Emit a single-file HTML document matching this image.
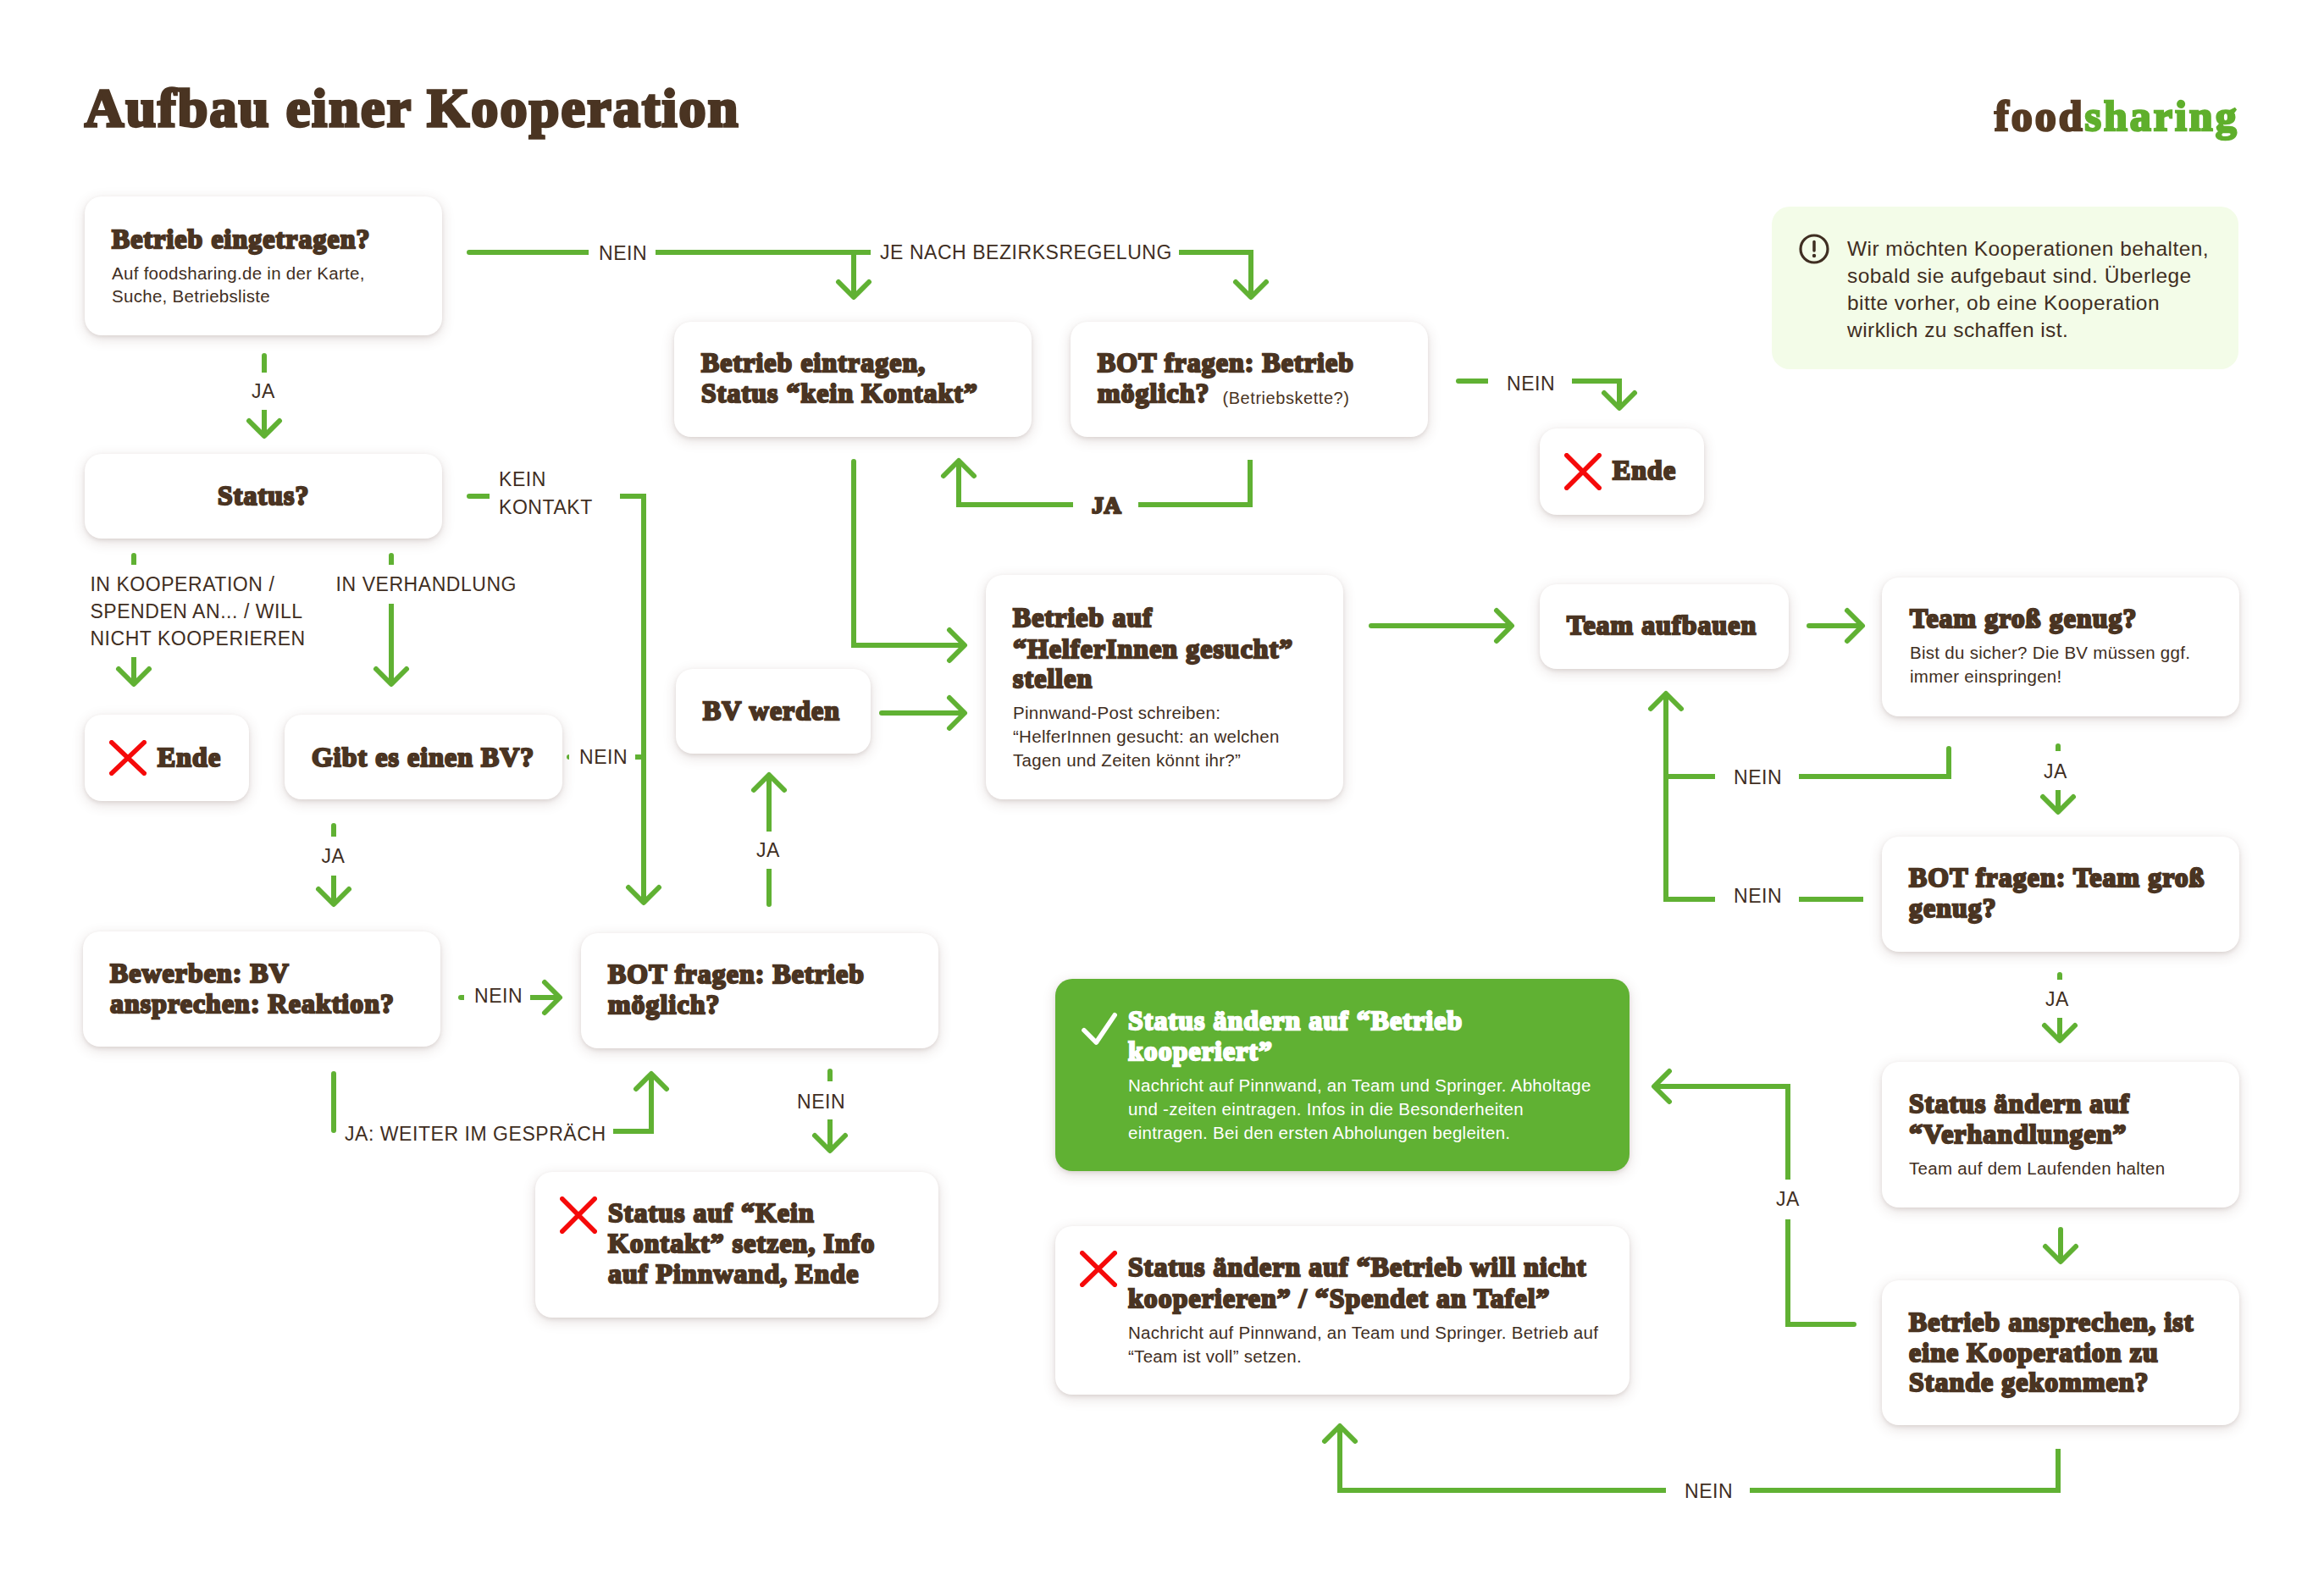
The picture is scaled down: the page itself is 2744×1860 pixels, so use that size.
<!DOCTYPE html>
<html><head><meta charset="utf-8"><title>Aufbau einer Kooperation</title><style>
html,body{margin:0;padding:0;background:#fff;}
#pg{position:relative;width:2744px;height:1860px;overflow:hidden;background:#fff;}
.box{position:absolute;background:#fff;border-radius:20px;box-shadow:0 2px 4px rgba(90,55,45,0.10),0 4px 15px rgba(90,55,45,0.17);}
.box.green{background:#60B133;}
.info{position:absolute;background:#F3FCE8;border-radius:21px;}
.lines{position:absolute;left:0;top:0;}
.t{position:absolute;white-space:nowrap;}
.sans{font-family:'Liberation Sans',sans-serif;}
.serif{font-family:'Liberation Serif',serif;font-weight:bold;-webkit-text-stroke:2.3px currentColor;letter-spacing:1.1px;}
.lab{letter-spacing:0.55px;}
.bod{letter-spacing:0.29px;}
.inf{letter-spacing:0.45px;}
.ic{position:absolute;}
</style></head>
<body><div id="pg">
<svg class="lines" width="2744" height="1860" viewBox="0 0 2744 1860"><g fill="none" stroke="#60B133" stroke-width="6" stroke-linecap="butt" stroke-linejoin="miter"><path d="M554,298 H695"/><path d="M774,298 H1028"/><path d="M1008,298 V351"/><path d="M1392,298 H1477 V351"/><path d="M312,420 V440"/><path d="M312,484 V515"/><path d="M554,586 H578"/><path d="M732,586 H760 V1066"/><path d="M158,656 V667"/><path d="M462,656 V667"/><path d="M158,776 V808"/><path d="M462,713 V808"/><path d="M750,894 H757"/><path d="M1008,545 V762 H1139"/><path d="M1041,842 H1139"/><path d="M908,1068 V1026"/><path d="M908,982 V915"/><path d="M394,975 V988"/><path d="M394,1034 V1068"/><path d="M626,1178 H661"/><path d="M1476,543 V596 H1344"/><path d="M1267,596 H1132 V544"/><path d="M1722,450 H1757"/><path d="M1856,450 H1912 V482"/><path d="M1619,739 H1785"/><path d="M2136,739 H2199"/><path d="M2301,884 V917 H2124"/><path d="M2025,917 H1964"/><path d="M2025,1062 H1967 V819"/><path d="M2124,1062 H2200"/><path d="M2430,881 V887"/><path d="M2430,933 V959"/><path d="M2432,1151 V1157"/><path d="M2432,1202 V1229"/><path d="M2433,1452 V1490"/><path d="M2189,1564 H2111 V1440"/><path d="M2111,1393 V1283 H1953"/><path d="M2430,1711 V1760 H2066"/><path d="M1967,1760 H1582 V1684"/><path d="M394,1268 V1335"/><path d="M724,1336 H769 V1268"/><path d="M980,1265 V1277"/><path d="M980,1322 V1359"/></g><g fill="none" stroke="#60B133" stroke-width="6" stroke-linecap="round" stroke-linejoin="round"><path d="M990,333 L1008,351 L1026,333"/><path d="M1459,333 L1477,351 L1495,333"/><path d="M294,497 L312,515 L330,497"/><path d="M742,1048 L760,1066 L778,1048"/><path d="M140,790 L158,808 L176,790"/><path d="M444,790 L462,808 L480,790"/><path d="M1121,744 L1139,762 L1121,780"/><path d="M1121,824 L1139,842 L1121,860"/><path d="M890,933 L908,915 L926,933"/><path d="M376,1050 L394,1068 L412,1050"/><path d="M643,1160 L661,1178 L643,1196"/><path d="M1114,562 L1132,544 L1150,562"/><path d="M1894,464 L1912,482 L1930,464"/><path d="M1767,721 L1785,739 L1767,757"/><path d="M2181,721 L2199,739 L2181,757"/><path d="M1949,837 L1967,819 L1985,837"/><path d="M2412,941 L2430,959 L2448,941"/><path d="M2414,1211 L2432,1229 L2450,1211"/><path d="M2415,1472 L2433,1490 L2451,1472"/><path d="M1971,1265 L1953,1283 L1971,1301"/><path d="M1564,1702 L1582,1684 L1600,1702"/><path d="M751,1286 L769,1268 L787,1286"/><path d="M962,1341 L980,1359 L998,1341"/></g><g fill="#60B133"><circle cx="554" cy="298" r="3"/><circle cx="312" cy="420" r="3"/><circle cx="554" cy="586" r="3"/><circle cx="158" cy="656" r="3"/><circle cx="462" cy="656" r="3"/><circle cx="1008" cy="545" r="3"/><circle cx="1041" cy="842" r="3"/><circle cx="908" cy="1068" r="3"/><circle cx="394" cy="975" r="3"/><circle cx="1722" cy="450" r="3"/><circle cx="1619" cy="739" r="3"/><circle cx="2136" cy="739" r="3"/><circle cx="2301" cy="884" r="3"/><circle cx="2430" cy="881" r="3"/><circle cx="2432" cy="1151" r="3"/><circle cx="2433" cy="1452" r="3"/><circle cx="2189" cy="1564" r="3"/><circle cx="394" cy="1268" r="3"/><circle cx="394" cy="1335" r="3"/><circle cx="980" cy="1265" r="3"/><path d="M672,891 A3,3 0 0,0 672,897 Z"/><circle cx="544" cy="1178" r="3"/><rect x="544" y="1175" width="4" height="6"/></g></svg>
<div class="box" style="left:100px;top:232px;width:422px;height:164px"></div>
<div class="box" style="left:796px;top:380px;width:422px;height:136px"></div>
<div class="box" style="left:1264px;top:380px;width:422px;height:136px"></div>
<div class="info" style="left:2092px;top:244px;width:551px;height:192px"></div>
<div class="box" style="left:1818px;top:506px;width:194px;height:102px"></div>
<div class="box" style="left:1818px;top:690px;width:294px;height:100px"></div>
<div class="box" style="left:2222px;top:682px;width:422px;height:164px"></div>
<div class="box" style="left:100px;top:536px;width:422px;height:100px"></div>
<div class="box" style="left:100px;top:844px;width:194px;height:102px"></div>
<div class="box" style="left:336px;top:844px;width:328px;height:100px"></div>
<div class="box" style="left:798px;top:790px;width:230px;height:100px"></div>
<div class="box" style="left:1164px;top:679px;width:422px;height:265px"></div>
<div class="box" style="left:98px;top:1100px;width:422px;height:136px"></div>
<div class="box" style="left:686px;top:1102px;width:422px;height:136px"></div>
<div class="box" style="left:632px;top:1384px;width:476px;height:172px"></div>
<div class="box green" style="left:1246px;top:1156px;width:678px;height:227px"></div>
<div class="box" style="left:1246px;top:1448px;width:678px;height:199px"></div>
<div class="box" style="left:2222px;top:988px;width:422px;height:136px"></div>
<div class="box" style="left:2222px;top:1254px;width:422px;height:172px"></div>
<div class="box" style="left:2222px;top:1512px;width:422px;height:171px"></div>
<div class="t serif " style="left:100px;top:89.50px;font-size:64px;line-height:76.8px;color:#4A3422;letter-spacing:2.2px;-webkit-text-stroke:3.4px">Aufbau einer Kooperation</div>
<div class="t serif " style="left:2355px;top:106.72px;font-size:50px;line-height:60.0px;color:#553A22;letter-spacing:3.0px;-webkit-text-stroke:2.6px">food<span style="color:#5FAF2C">sharing</span></div>
<div class="t serif " style="left:132px;top:263.99px;font-size:31.8px;line-height:38.16px;color:#4A3422;">Betrieb eingetragen?</div>
<div class="t sans bod" style="left:132px;top:310.80px;font-size:20.5px;line-height:24.6px;color:#3F2E22;">Auf foodsharing.de in der Karte,</div>
<div class="t sans bod" style="left:132px;top:338.20px;font-size:20.5px;line-height:24.6px;color:#3F2E22;">Suche, Betriebsliste</div>
<div class="t serif " style="left:828px;top:409.79px;font-size:31.8px;line-height:38.16px;color:#4A3422;">Betrieb eintragen,</div>
<div class="t serif " style="left:828px;top:446.39px;font-size:31.8px;line-height:38.16px;color:#4A3422;">Status “kein Kontakt”</div>
<div class="t serif " style="left:1296px;top:409.79px;font-size:31.8px;line-height:38.16px;color:#4A3422;">BOT fragen: Betrieb</div>
<div class="t serif " style="left:1296px;top:446.39px;font-size:31.8px;line-height:38.16px;color:#4A3422;">möglich? <span class="sans" style="font-size:20px;font-weight:normal;-webkit-text-stroke:0;letter-spacing:0.55px;margin-left:6px;position:relative;top:2px">(Betriebskette?)</span></div>
<div class="t sans inf" style="left:2181px;top:279.01px;font-size:24.5px;line-height:29.4px;color:#3F2E22;">Wir möchten Kooperationen behalten,</div>
<div class="t sans inf" style="left:2181px;top:311.01px;font-size:24.5px;line-height:29.4px;color:#3F2E22;">sobald sie aufgebaut sind. Überlege</div>
<div class="t sans inf" style="left:2181px;top:343.01px;font-size:24.5px;line-height:29.4px;color:#3F2E22;">bitte vorher, ob eine Kooperation</div>
<div class="t sans inf" style="left:2181px;top:375.01px;font-size:24.5px;line-height:29.4px;color:#3F2E22;">wirklich zu schaffen ist.</div>
<div class="t serif " style="left:1904px;top:536.99px;font-size:31.8px;line-height:38.16px;color:#4A3422;">Ende</div>
<div class="t serif " style="left:1850px;top:719.99px;font-size:31.8px;line-height:38.16px;color:#4A3422;">Team aufbauen</div>
<div class="t serif " style="left:2255px;top:712.29px;font-size:31.8px;line-height:38.16px;color:#4A3422;">Team groß genug?</div>
<div class="t sans bod" style="left:2255px;top:759.10px;font-size:20.5px;line-height:24.6px;color:#3F2E22;">Bist du sicher? Die BV müssen ggf.</div>
<div class="t sans bod" style="left:2255px;top:786.80px;font-size:20.5px;line-height:24.6px;color:#3F2E22;">immer einspringen!</div>
<div class="t serif " style="left:257px;top:566.59px;font-size:31.8px;line-height:38.16px;color:#4A3422;">Status?</div>
<div class="t serif " style="left:186px;top:875.59px;font-size:31.8px;line-height:38.16px;color:#4A3422;">Ende</div>
<div class="t serif " style="left:368px;top:875.59px;font-size:31.8px;line-height:38.16px;color:#4A3422;">Gibt es einen BV?</div>
<div class="t serif " style="left:830px;top:821.39px;font-size:31.8px;line-height:38.16px;color:#4A3422;">BV werden</div>
<div class="t serif " style="left:1196px;top:710.99px;font-size:31.8px;line-height:38.16px;color:#4A3422;">Betrieb auf</div>
<div class="t serif " style="left:1196px;top:747.89px;font-size:31.8px;line-height:38.16px;color:#4A3422;">“HelferInnen gesucht”</div>
<div class="t serif " style="left:1196px;top:783.39px;font-size:31.8px;line-height:38.16px;color:#4A3422;">stellen</div>
<div class="t sans bod" style="left:1196px;top:829.60px;font-size:20.5px;line-height:24.6px;color:#3F2E22;">Pinnwand-Post schreiben:</div>
<div class="t sans bod" style="left:1196px;top:857.60px;font-size:20.5px;line-height:24.6px;color:#3F2E22;">“HelferInnen gesucht: an welchen</div>
<div class="t sans bod" style="left:1196px;top:886.00px;font-size:20.5px;line-height:24.6px;color:#3F2E22;">Tagen und Zeiten könnt ihr?”</div>
<div class="t serif " style="left:130px;top:1130.99px;font-size:31.8px;line-height:38.16px;color:#4A3422;">Bewerben: BV</div>
<div class="t serif " style="left:130px;top:1167.39px;font-size:31.8px;line-height:38.16px;color:#4A3422;">ansprechen: Reaktion?</div>
<div class="t serif " style="left:718px;top:1131.99px;font-size:31.8px;line-height:38.16px;color:#4A3422;">BOT fragen: Betrieb</div>
<div class="t serif " style="left:718px;top:1168.39px;font-size:31.8px;line-height:38.16px;color:#4A3422;">möglich?</div>
<div class="t serif " style="left:718px;top:1413.69px;font-size:31.8px;line-height:38.16px;color:#4A3422;">Status auf “Kein</div>
<div class="t serif " style="left:718px;top:1449.79px;font-size:31.8px;line-height:38.16px;color:#4A3422;">Kontakt” setzen, Info</div>
<div class="t serif " style="left:718px;top:1485.99px;font-size:31.8px;line-height:38.16px;color:#4A3422;">auf Pinnwand, Ende</div>
<div class="t serif " style="left:1332px;top:1186.99px;font-size:31.8px;line-height:38.16px;color:#FFFFFF;">Status ändern auf “Betrieb</div>
<div class="t serif " style="left:1332px;top:1223.29px;font-size:31.8px;line-height:38.16px;color:#FFFFFF;">kooperiert”</div>
<div class="t sans bod" style="left:1332px;top:1269.80px;font-size:20.5px;line-height:24.6px;color:#FFFFFF;">Nachricht auf Pinnwand, an Team und Springer. Abholtage</div>
<div class="t sans bod" style="left:1332px;top:1298.10px;font-size:20.5px;line-height:24.6px;color:#FFFFFF;">und -zeiten eintragen. Infos in die Besonderheiten</div>
<div class="t sans bod" style="left:1332px;top:1326.40px;font-size:20.5px;line-height:24.6px;color:#FFFFFF;">eintragen. Bei den ersten Abholungen begleiten.</div>
<div class="t serif " style="left:1332px;top:1478.39px;font-size:31.8px;line-height:38.16px;color:#4A3422;">Status ändern auf “Betrieb will nicht</div>
<div class="t serif " style="left:1332px;top:1514.59px;font-size:31.8px;line-height:38.16px;color:#4A3422;">kooperieren” / “Spendet an Tafel”</div>
<div class="t sans bod" style="left:1332px;top:1561.60px;font-size:20.5px;line-height:24.6px;color:#3F2E22;">Nachricht auf Pinnwand, an Team und Springer. Betrieb auf</div>
<div class="t sans bod" style="left:1332px;top:1590.10px;font-size:20.5px;line-height:24.6px;color:#3F2E22;">“Team ist voll” setzen.</div>
<div class="t serif " style="left:2254px;top:1018.19px;font-size:31.8px;line-height:38.16px;color:#4A3422;">BOT fragen: Team groß</div>
<div class="t serif " style="left:2254px;top:1054.49px;font-size:31.8px;line-height:38.16px;color:#4A3422;">genug?</div>
<div class="t serif " style="left:2254px;top:1284.99px;font-size:31.8px;line-height:38.16px;color:#4A3422;">Status ändern auf</div>
<div class="t serif " style="left:2254px;top:1320.89px;font-size:31.8px;line-height:38.16px;color:#4A3422;">“Verhandlungen”</div>
<div class="t sans bod" style="left:2254px;top:1368.10px;font-size:20.5px;line-height:24.6px;color:#3F2E22;">Team auf dem Laufenden halten</div>
<div class="t serif " style="left:2254px;top:1542.99px;font-size:31.8px;line-height:38.16px;color:#4A3422;">Betrieb ansprechen, ist</div>
<div class="t serif " style="left:2254px;top:1578.89px;font-size:31.8px;line-height:38.16px;color:#4A3422;">eine Kooperation zu</div>
<div class="t serif " style="left:2254px;top:1614.19px;font-size:31.8px;line-height:38.16px;color:#4A3422;">Stande gekommen?</div>
<div class="t sans lab" style="left:707px;top:286.13px;font-size:23px;line-height:27.6px;color:#3F2E22;">NEIN</div>
<div class="t sans lab" style="left:1039px;top:285.33px;font-size:23px;line-height:27.6px;color:#3F2E22;">JE NACH BEZIRKSREGELUNG</div>
<div class="t sans lab" style="left:1779px;top:440.03px;font-size:23px;line-height:27.6px;color:#3F2E22;">NEIN</div>
<div class="t sans lab" style="left:297px;top:449.43px;font-size:23px;line-height:27.6px;color:#3F2E22;">JA</div>
<div class="t sans lab" style="left:589px;top:553.43px;font-size:23px;line-height:27.6px;color:#3F2E22;">KEIN</div>
<div class="t sans lab" style="left:589px;top:586.13px;font-size:23px;line-height:27.6px;color:#3F2E22;">KONTAKT</div>
<div class="t serif " style="left:1289px;top:579.55px;font-size:28px;line-height:33.6px;color:#4A3422;letter-spacing:0.6px">JA</div>
<div class="t sans lab" style="left:106.4px;top:677.43px;font-size:23px;line-height:27.6px;color:#3F2E22;">IN KOOPERATION /</div>
<div class="t sans lab" style="left:106.4px;top:709.43px;font-size:23px;line-height:27.6px;color:#3F2E22;">SPENDEN AN... / WILL</div>
<div class="t sans lab" style="left:106.4px;top:741.43px;font-size:23px;line-height:27.6px;color:#3F2E22;">NICHT KOOPERIEREN</div>
<div class="t sans lab" style="left:396.6px;top:677.43px;font-size:23px;line-height:27.6px;color:#3F2E22;">IN VERHANDLUNG</div>
<div class="t sans lab" style="left:684px;top:881.43px;font-size:23px;line-height:27.6px;color:#3F2E22;">NEIN</div>
<div class="t sans lab" style="left:893px;top:991.43px;font-size:23px;line-height:27.6px;color:#3F2E22;">JA</div>
<div class="t sans lab" style="left:379.5px;top:998.43px;font-size:23px;line-height:27.6px;color:#3F2E22;">JA</div>
<div class="t sans lab" style="left:560px;top:1163.43px;font-size:23px;line-height:27.6px;color:#3F2E22;">NEIN</div>
<div class="t sans lab" style="left:407px;top:1326.03px;font-size:23px;line-height:27.6px;color:#3F2E22;">JA: WEITER IM GESPRÄCH</div>
<div class="t sans lab" style="left:941px;top:1287.83px;font-size:23px;line-height:27.6px;color:#3F2E22;">NEIN</div>
<div class="t sans lab" style="left:2047px;top:905.43px;font-size:23px;line-height:27.6px;color:#3F2E22;">NEIN</div>
<div class="t sans lab" style="left:2047px;top:1045.43px;font-size:23px;line-height:27.6px;color:#3F2E22;">NEIN</div>
<div class="t sans lab" style="left:2413px;top:897.73px;font-size:23px;line-height:27.6px;color:#3F2E22;">JA</div>
<div class="t sans lab" style="left:2415px;top:1167.13px;font-size:23px;line-height:27.6px;color:#3F2E22;">JA</div>
<div class="t sans lab" style="left:2097px;top:1403.13px;font-size:23px;line-height:27.6px;color:#3F2E22;">JA</div>
<div class="t sans lab" style="left:1989px;top:1747.93px;font-size:23px;line-height:27.6px;color:#3F2E22;">NEIN</div>
<svg class="ic" style="left:1847px;top:535px" width="44" height="44"><path d="M2.8,2.8 L41.2,41.2 M41.2,2.8 L2.8,41.2" stroke="#F50A0A" stroke-width="5.6" stroke-linecap="round" fill="none"/></svg>
<svg class="ic" style="left:129px;top:874px" width="44" height="42"><path d="M2.8,2.8 L41.2,39.2 M41.2,2.8 L2.8,39.2" stroke="#F50A0A" stroke-width="5.6" stroke-linecap="round" fill="none"/></svg>
<svg class="ic" style="left:661px;top:1413px" width="44" height="44"><path d="M2.8,2.8 L41.2,41.2 M41.2,2.8 L2.8,41.2" stroke="#F50A0A" stroke-width="5.6" stroke-linecap="round" fill="none"/></svg>
<svg class="ic" style="left:1275px;top:1477px" width="44" height="43"><path d="M2.8,2.8 L41.2,40.2 M41.2,2.8 L2.8,40.2" stroke="#F50A0A" stroke-width="5.6" stroke-linecap="round" fill="none"/></svg>
<svg class="ic" style="left:1270px;top:1190px" width="56" height="52"><path d="M9.9,26.6 L24.3,41.1 L46.2,8.7" stroke="#fff" stroke-width="5.5" stroke-linecap="round" stroke-linejoin="round" fill="none"/></svg>
<svg class="ic" style="left:2120px;top:272px" width="44" height="44"><circle cx="22" cy="22" r="16" stroke="#3F2E22" stroke-width="3.2" fill="none"/><path d="M22,13.5 V24" stroke="#3F2E22" stroke-width="3.5" stroke-linecap="round"/><circle cx="22" cy="30" r="2.2" fill="#3F2E22"/></svg>
</div></body></html>
